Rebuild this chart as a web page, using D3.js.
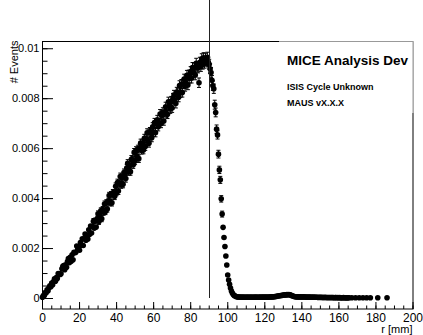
<!DOCTYPE html>
<html>
<head>
<meta charset="utf-8">
<script src="https://cdn.jsdelivr.net/npm/d3@7"></script>
<style>
	body{ margin: 0; background: #fff; }
	svg{ display: block; font-family: "Liberation Sans", Arial, Helvetica, sans-serif; }
</style>
</head>
<body>
<div id="chart"></div>
<script>
/*
* radial distribution, r [mm]
* histogram bins of 0.5 mm (units of 1e-5)
*/
var binWidth = 0.5,
	yUnit = 1e-5,
	nEvents = 240000;//poisson errors: sqrt(v / nEvents)

//0 - 90 mm
var riseValues = [
	3, 10, 10, 22, 21, 33, 29, 41, 49, 45,
	60, 53, 66, 77, 67, 82, 78, 98, 97, 94,
	97, 117, 127, 130, 113, 133, 123, 146, 158, 141,
	163, 147, 173, 153, 183, 181, 183, 208, 194, 206,
	191, 222, 210, 237, 210, 237, 256, 231, 252, 236,
	273, 255, 288, 260, 286, 307, 280, 309, 284, 316,
	337, 306, 330, 349, 317, 354, 343, 376, 346, 381,
	356, 387, 410, 382, 413, 381, 421, 418, 407, 447,
	423, 462, 428, 459, 486, 453, 482, 455, 502, 496,
	478, 520, 539, 506, 529, 506, 555, 553, 534, 583,
	549, 590, 568, 596, 558, 600, 620, 592, 620, 593,
	639, 607, 637, 661, 628, 620, 666, 662, 642, 685,
	664, 702, 662, 700, 714, 686, 701, 737, 699, 731,
	744, 709, 746, 766, 739, 736, 786, 770, 757, 789,
	761, 801, 813, 791, 779, 825, 822, 804, 851, 822,
	856, 823, 858, 877, 847, 861, 892, 853, 893, 880,
	907, 880, 923, 902, 922, 893, 940, 925, 921, 862,
	944, 927, 958, 936, 962, 940, 960, 948, 964, 945
];
//90 - 105 mm
var edgeValues = [
	936, 918, 903, 872, 850, 838, 774, 743, 676, 653,
	576, 513, 473, 397, 336, 283, 242, 206, 168, 132,
	92, 72, 55, 40, 28, 20, 14, 10, 8, 6
];
//105 - 166 mm
var haloValues = [
	5, 4, 4, 4, 3, 4, 3, 4, 3, 3,
	4, 3, 3, 4, 3, 3, 4, 3, 3, 4,
	3, 4, 3, 3, 4, 3, 4, 3, 4, 4,
	3, 4, 4, 3, 4, 4, 4, 5, 4, 5,
	5, 6, 6, 7, 8, 8, 9, 10, 10, 11,
	12, 12, 13, 12, 14, 13, 14, 13, 12, 10,
	8, 7, 6, 5, 5, 4, 5, 4, 4, 5,
	4, 4, 5, 4, 4, 4, 3, 4, 4, 3,
	4, 3, 3, 4, 3, 3, 3, 3, 2, 3,
	3, 2, 3, 2, 2, 3, 2, 2, 2, 2,
	2, 2, 2, 2, 2, 1, 2, 2, 1, 2,
	1, 2, 1, 1, 1, 2, 1, 1, 1, 1,
	1, 1
];
//isolated bins beyond 166 mm
var tailR = [167.25, 169.25, 171.25, 173.25, 175.25, 177.25, 181.25, 186.25],
	tailValues = [1, 1, 1, 1, 1, 1, 1, 1];

var xTicks = [0, 20, 40, 60, 80, 100, 120, 140, 160, 180, 200],
	yTicks = [0, 0.002, 0.004, 0.006, 0.008, 0.01],
	yTickLabels = ["0", "0.002", "0.004", "0.006", "0.008", "0.01"],
	cutR = 90,
	titleLines = ["MICE Analysis Dev", "ISIS Cycle Unknown", "MAUS vX.X.X"];

;(function(d3){
	var width = 423,
		height = 335,
		frame = {left: 42, right: 412.5, top: 41, bottom: 309};

	var svg = d3.select("#chart").append("svg")
		.attr("width", width)
		.attr("height", height);

	var x = d3.scaleLinear().domain([0, 200]).range([frame.left, frame.right]),
		y = d3.scaleLinear().domain([-0.00044, 0.01029]).range([frame.bottom, frame.top]);

	/*************bins -> points*************/
	var points = [];
	riseValues.concat(edgeValues, haloValues).forEach(function(v, i){
		points.push({r: (i + 0.5) * binWidth, v: v * yUnit});
	});
	tailR.forEach(function(r, i){
		points.push({r: r, v: tailValues[i] * yUnit});
	});
	points.forEach(function(p){
		p.err = Math.sqrt(p.v / nEvents);
	});

	/*************axes*************/
	var minorX = d3.range(0, 201, 5),
		minorY = d3.range(0, 0.01001, 0.0005);

	var gx = svg.append("g").attr("transform", "translate(0," + frame.bottom + ")");
	gx.call(d3.axisBottom(x).tickValues(minorX).tickSize(-3.5).tickSizeOuter(0).tickFormat(""));
	gx.append("g").call(d3.axisBottom(x).tickValues(xTicks).tickSize(-7).tickSizeOuter(0).tickPadding(4).tickFormat(d3.format("d")));

	var gy = svg.append("g").attr("transform", "translate(" + frame.left + ",0)");
	gy.call(d3.axisLeft(y).tickValues(minorY).tickSize(-5.5).tickSizeOuter(0).tickFormat(""));
	gy.append("g").call(d3.axisLeft(y).tickValues(yTicks).tickSize(-11).tickSizeOuter(0).tickPadding(2.5)
		.tickFormat(function(d, i){ return yTickLabels[i]; }));

	svg.selectAll(".domain").remove();
	svg.selectAll(".tick line").attr("stroke", "#000");
	gx.selectAll("text").attr("font-size", 12).attr("font-family", null).attr("fill", "#000");
	gy.selectAll("text").attr("font-size", 11).attr("font-family", null).attr("fill", "#000");

	//frame
	svg.append("rect")
		.attr("x", frame.left + 0.5)
		.attr("y", frame.top + 0.5)
		.attr("width", frame.right - frame.left)
		.attr("height", frame.bottom - frame.top - 0.5)
		.attr("fill", "none")
		.attr("stroke", "#000")
		.attr("stroke-width", 1);

	/*************errors + markers*************/
	var markerR = 2.8,
		cap = 2;
	var gp = svg.append("g").attr("class", "x-points");
	var withErr = points.filter(function(p){
		return y(p.v - p.err) - y(p.v + p.err) > 2 * markerR;
	});
	gp.selectAll("path.err").data(withErr).enter().append("path")
		.attr("class", "err")
		.attr("fill", "none")
		.attr("stroke", "#000")
		.attr("stroke-width", 1)
		.attr("d", function(p){
			var cx = x(p.r),
				y1 = y(p.v + p.err),
				y2 = y(p.v - p.err);
			return "M" + cx + "," + y1 + "V" + y2
				+ "M" + (cx - cap) + "," + y1 + "H" + (cx + cap)
				+ "M" + (cx - cap) + "," + y2 + "H" + (cx + cap);
		});
	gp.selectAll("circle").data(points).enter().append("circle")
		.attr("cx", function(p){ return x(p.r); })
		.attr("cy", function(p){ return y(p.v); })
		.attr("r", markerR)
		.attr("fill", "#000");

	//cut line at r = 90 mm
	svg.append("line")
		.attr("x1", Math.round(x(cutR)) + 0.5)
		.attr("x2", Math.round(x(cutR)) + 0.5)
		.attr("y1", y(0))
		.attr("y2", 0)
		.attr("stroke", "#222")
		.attr("stroke-width", 1);

	/*************titles*************/
	svg.append("text")
		.attr("x", frame.right)
		.attr("y", 333)
		.attr("text-anchor", "end")
		.attr("font-size", 11)
		.text("r  [mm]");
	svg.append("text")
		.attr("transform", "translate(17.5," + (frame.top - 0.5) + ") rotate(-90)")
		.attr("text-anchor", "end")
		.attr("font-size", 11)
		.text("# Events");

	//pave
	var pave = svg.append("g").attr("class", "x-pave");
	pave.append("rect")
		.attr("x", 279)
		.attr("y", frame.top)
		.attr("width", frame.right - 279 + 1)
		.attr("height", 72)
		.attr("fill", "#fff");
	pave.append("path")
		.attr("d", "M279," + (frame.top + 0.5) + "H" + (frame.right + 0.5) + "V" + (frame.top + 72))
		.attr("fill", "none")
		.attr("stroke", "#999")
		.attr("stroke-width", 1);
	pave.selectAll("text").data(titleLines).enter().append("text")
		.attr("x", 287)
		.attr("y", function(d, i){ return [65, 89.5, 106][i]; })
		.attr("font-weight", "bold")
		.attr("font-size", function(d, i){ return i ? 9 : 13.5; })
		.attr("fill", "#000")
		.text(function(d){ return d; });
})(d3);
</script>
</body>
</html>
